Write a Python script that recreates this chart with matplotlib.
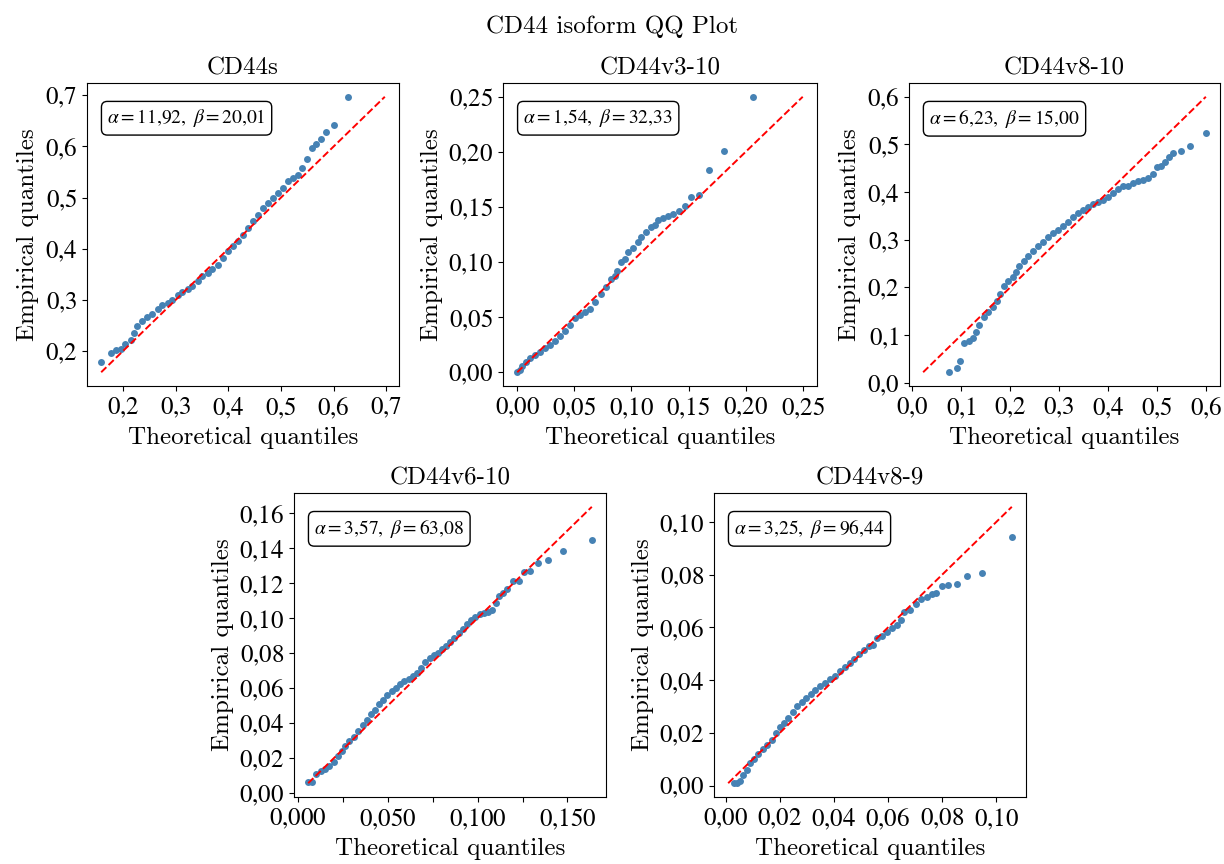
import matplotlib
matplotlib.use('Agg')
import matplotlib.pyplot as plt
from matplotlib.ticker import FuncFormatter, MultipleLocator

plt.rcParams.update({
    'font.family': ['cmr10', 'DejaVu Serif'],
    'mathtext.fontset': 'stix',
    'axes.unicode_minus': False,
    'font.size': 18,
})

# values (theoretical vs empirical quantiles)
cd44s_theo = [0.159, 0.178, 0.188, 0.196, 0.205, 0.215, 0.221, 0.227, 0.237, 0.246,
              0.256, 0.266, 0.275, 0.285, 0.294, 0.304, 0.313, 0.323, 0.332, 0.342,
              0.351, 0.361, 0.370, 0.380, 0.390, 0.399, 0.409, 0.418, 0.428, 0.437,
              0.447, 0.456, 0.466, 0.475, 0.485, 0.495, 0.504, 0.514, 0.523, 0.533,
              0.539, 0.549, 0.559, 0.566, 0.576, 0.586, 0.601, 0.627]
cd44s_emp = [0.179, 0.197, 0.202, 0.204, 0.214, 0.221, 0.236, 0.249, 0.259, 0.266,
             0.272, 0.282, 0.290, 0.295, 0.301, 0.309, 0.316, 0.321, 0.327, 0.337,
             0.346, 0.353, 0.361, 0.368, 0.383, 0.396, 0.405, 0.415, 0.428, 0.441,
             0.454, 0.467, 0.480, 0.490, 0.500, 0.510, 0.519, 0.532, 0.539, 0.545,
             0.558, 0.575, 0.597, 0.604, 0.615, 0.628, 0.641, 0.697]

v3_theo = [0.000, 0.002, 0.0044, 0.0074, 0.011, 0.0153, 0.0198, 0.0242, 0.0286, 0.0331,
           0.0375, 0.0419, 0.0463, 0.0508, 0.0552, 0.0596, 0.064, 0.0685, 0.0729, 0.0773,
           0.0818, 0.0853, 0.0877, 0.0906, 0.0942, 0.0971, 0.101, 0.1054, 0.1083, 0.1128,
           0.1172, 0.1207, 0.1231, 0.1275, 0.1319, 0.1364, 0.1414, 0.1467, 0.152, 0.1588,
           0.1677, 0.1809, 0.2066]
v3_emp = [0.000, 0.0024, 0.006, 0.0097, 0.0127, 0.0157, 0.0187, 0.0217, 0.0251, 0.0287,
          0.0326, 0.0377, 0.0429, 0.0489, 0.0519, 0.0543, 0.0574, 0.0634, 0.071, 0.077,
          0.0845, 0.0876, 0.0921, 0.0996, 0.1027, 0.1087, 0.1132, 0.1178, 0.1223, 0.1274,
          0.1319, 0.1337, 0.1383, 0.1404, 0.1419, 0.1437, 0.1461, 0.1507, 0.1594, 0.1609,
          0.1836, 0.2005, 0.250]

v8_10_theo = [0.0748, 0.0912, 0.0986, 0.1068, 0.117, 0.1238, 0.1306, 0.1374, 0.1463, 0.1544,
              0.1646, 0.1735, 0.1803, 0.1871, 0.1952, 0.2054, 0.2122, 0.219, 0.2279, 0.2361,
              0.2463, 0.2565, 0.2667, 0.2769, 0.2871, 0.2973, 0.3075, 0.3177, 0.3279, 0.3381,
              0.3483, 0.3585, 0.3687, 0.3789, 0.3891, 0.3993, 0.4095, 0.4197, 0.4299, 0.4401,
              0.4503, 0.4605, 0.4707, 0.481, 0.4912, 0.500, 0.5082, 0.5163, 0.5252, 0.5333,
              0.549, 0.5673, 0.600]
v8_10_emp = [0.0223, 0.0314, 0.0468, 0.0831, 0.0887, 0.0936, 0.1061, 0.1215, 0.1376, 0.148,
             0.1585, 0.1725, 0.1865, 0.2025, 0.2144, 0.2214, 0.2318, 0.2444, 0.2563, 0.2668,
             0.2772, 0.2877, 0.2961, 0.3052, 0.3136, 0.3212, 0.3296, 0.338, 0.3471, 0.3554,
             0.3631, 0.3694, 0.375, 0.3785, 0.3834, 0.389, 0.3973, 0.4064, 0.412, 0.4134,
             0.419, 0.4225, 0.4253, 0.4295, 0.4378, 0.4518, 0.4553, 0.4637, 0.4728, 0.4818,
             0.4853, 0.4958, 0.5237]

v6_theo = [0.0056, 0.008, 0.0099, 0.0125, 0.0149, 0.0173, 0.0199, 0.0224, 0.0242, 0.0261,
           0.0285, 0.0311, 0.0335, 0.036, 0.0382, 0.0404, 0.0429, 0.0453, 0.0475, 0.0497,
           0.0522, 0.0546, 0.0568, 0.0591, 0.0615, 0.0639, 0.0661, 0.0684, 0.0708, 0.0732,
           0.0755, 0.0777, 0.0801, 0.0825, 0.0848, 0.087, 0.0894, 0.0919, 0.0941, 0.0963,
           0.0988, 0.1012, 0.1034, 0.1056, 0.1081, 0.1105, 0.1118, 0.1142, 0.1165, 0.1198,
           0.1228, 0.1258, 0.1291, 0.1338, 0.1394, 0.1476, 0.1636]
v6_emp = [0.0061, 0.0065, 0.0111, 0.0124, 0.0137, 0.0157, 0.0176, 0.021, 0.0239, 0.0267,
          0.0296, 0.0321, 0.0353, 0.0386, 0.0416, 0.0449, 0.0477, 0.0506, 0.0531, 0.0558,
          0.0582, 0.0601, 0.0621, 0.064, 0.0653, 0.0668, 0.0687, 0.0716, 0.0748, 0.0773,
          0.0789, 0.0802, 0.0821, 0.084, 0.0863, 0.0888, 0.0916, 0.0939, 0.0964, 0.0989,
          0.1008, 0.1021, 0.1031, 0.1035, 0.1046, 0.1088, 0.1127, 0.1146, 0.1169, 0.1211,
          0.1212, 0.1264, 0.127, 0.1317, 0.1332, 0.1382, 0.1445]

v8_9_theo = [0.0031, 0.0042, 0.0052, 0.0064, 0.0077, 0.0089, 0.0104, 0.012, 0.0136, 0.0153,
             0.017, 0.0186, 0.020, 0.0215, 0.0231, 0.0248, 0.0262, 0.0281, 0.0297, 0.0314,
             0.033, 0.0349, 0.0368, 0.0386, 0.0405, 0.0423, 0.0442, 0.0458, 0.0475, 0.0491,
             0.051, 0.0528, 0.0545, 0.0559, 0.0578, 0.0597, 0.0615, 0.0634, 0.0649, 0.0661,
             0.0681, 0.0702, 0.0723, 0.0743, 0.0761, 0.0777, 0.080, 0.0823, 0.0854, 0.0894,
             0.0949, 0.1058]
v8_9_emp = [0.0009, 0.0009, 0.0019, 0.0041, 0.0059, 0.0085, 0.010, 0.012, 0.0139, 0.0154,
            0.0173, 0.0199, 0.0222, 0.0237, 0.0256, 0.0281, 0.0303, 0.0319, 0.0332, 0.0348,
            0.0363, 0.0376, 0.0391, 0.0404, 0.0416, 0.0433, 0.0449, 0.0465, 0.048, 0.0499,
            0.0515, 0.0528, 0.0534, 0.0559, 0.0568, 0.0581, 0.0597, 0.061, 0.0629, 0.0657,
            0.0667, 0.069, 0.0708, 0.0715, 0.0728, 0.073, 0.0756, 0.0762, 0.0766, 0.0794,
            0.0806, 0.0943]

titles = ["CD44s", "CD44v3-10", "CD44v8-10", "CD44v6-10", "CD44v8-9"]
alphas = ["11{,}92", "1{,}54", "6{,}23", "3{,}57", "3{,}25"]
betas = ["20{,}01", "32{,}33", "15{,}00", "63{,}08", "96{,}44"]
series = [(cd44s_theo, cd44s_emp), (v3_theo, v3_emp), (v8_10_theo, v8_10_emp),
          (v6_theo, v6_emp), (v8_9_theo, v8_9_emp)]

# x step, x decimals, y step, y decimals, label every n-th x tick
tick_cfg = [
    (0.1, 1, 0.1, 1, 1),
    (0.05, 2, 0.05, 2, 1),
    (0.1, 1, 0.1, 1, 1),
    (0.025, 3, 0.02, 2, 2),
    (0.02, 2, 0.02, 2, 1),
]

W, H = 1224, 864
# axes boxes in pixels: left, top, right, bottom
boxes = [
    (87, 83, 399, 386),
    (503, 83, 817, 386),
    (909, 83, 1220, 386),
    (294, 493, 606, 797),
    (714, 493, 1026, 797),
]


def comma_formatter(decimals, step, every):
    def fmt(v, pos):
        if every > 1 and round(v / step) % every != 0:
            return ""
        s = f"{v:.{decimals}f}"
        if s.startswith("-"):
            s = s[1:]
        return "$" + s.replace(".", "{,}") + "$"
    return FuncFormatter(fmt)


fig = plt.figure(figsize=(W / 100, H / 100), dpi=100)
fig.suptitle("CD44 isoform QQ Plot", y=1 - 27 / H, va="center", fontsize=18)

for i, (theo, emp) in enumerate(series):
    l, t, r, b = boxes[i]
    ax = fig.add_axes([l / W, 1 - b / H, (r - l) / W, (b - t) / H])
    lo = min(min(theo), min(emp))
    hi = max(max(theo), max(emp))
    ax.plot(theo, emp, "o", color="steelblue", ms=5.0, mew=0, zorder=2)
    ax.plot([lo, hi], [lo, hi], "--", color="red", lw=1.4, zorder=3)

    xstep, xdec, ystep, ydec, xevery = tick_cfg[i]
    ax.xaxis.set_major_locator(MultipleLocator(xstep))
    ax.yaxis.set_major_locator(MultipleLocator(ystep))
    ax.xaxis.set_major_formatter(comma_formatter(xdec, xstep, xevery))
    ax.yaxis.set_major_formatter(comma_formatter(ydec, ystep, 1))
    ax.tick_params(labelsize=18)

    ax.set_title(titles[i], fontsize=18)
    ax.set_xlabel("Theoretical quantiles", fontsize=18)
    ax.set_ylabel("Empirical quantiles", fontsize=18)

    ax.text(0.065, 0.92, rf"$\alpha = {alphas[i]},\ \beta = {betas[i]}$",
            transform=ax.transAxes, ha="left", va="top", fontsize=14,
            bbox=dict(boxstyle="round,pad=0.3", fc="white", ec="black", lw=1))

fig.savefig("out.png", dpi=100)
